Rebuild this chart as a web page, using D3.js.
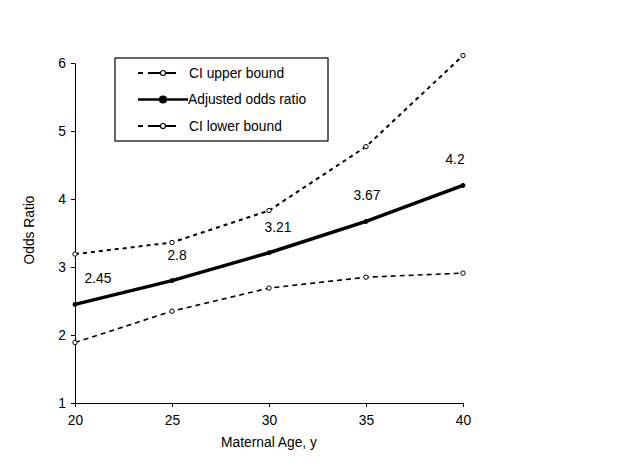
<!DOCTYPE html>
<html>
<head>
<meta charset="utf-8">
<script src="https://cdn.jsdelivr.net/npm/d3@7"></script>
<style>
  body { margin: 0; background: #fff; }
  svg { font-family: 'Liberation Sans', Arial, sans-serif; }
</style>
</head>
<body>
<svg id="chart" width="640" height="465"></svg>
<script>
// data
const ages = [20, 25, 30, 35, 40]
const adjusted = [2.45, 2.8, 3.21, 3.67, 4.2]
const ciUpper = [3.19, 3.36, 3.83, 4.77, 6.11]
const ciLower = [1.89, 2.35, 2.69, 2.85, 2.91]
const adjustedLabels = ['2.45', '2.8', '3.21', '3.67', '4.2']
const xTicks = [20, 25, 30, 35, 40]
const yTicks = [1, 2, 3, 4, 5, 6]

const margin = { left: 75, top: 63, right: 177, bottom: 62 }
const width = 640
const height = 465
const innerWidth = width - margin.left - margin.right
const innerHeight = height - margin.top - margin.bottom
const fontSize = 13.8

const svg = d3.select('#chart')
const g = svg.append('g')
  .attr('transform', `translate(${margin.left}, ${margin.top})`)

// scales
const xScale = d3.scaleLinear().domain([20, 40]).range([0, innerWidth])
const yScale = d3.scaleLinear().domain([1, 6]).range([innerHeight, 0])

// axes
const xAxis = d3.axisBottom(xScale).tickValues(xTicks).tickSize(4).tickSizeOuter(0).tickPadding(8)
  .tickFormat(d3.format('d'))
const yAxis = d3.axisLeft(yScale).tickValues(yTicks).tickSize(4).tickSizeOuter(0).tickPadding(5)
  .tickFormat(d3.format('d'))

g.append('g')
  .attr('class', 'x axis')
  .attr('transform', `translate(0, ${innerHeight})`)
  .call(xAxis)
g.append('g')
  .attr('class', 'y axis')
  .call(yAxis)

g.selectAll('.axis')
  .attr('font-size', fontSize)
  .attr('font-family', "'Liberation Sans', Arial, sans-serif")
g.selectAll('.axis path, .axis line').attr('stroke', '#000').attr('stroke-width', 1)
g.selectAll('.axis text').attr('fill', '#000')

svg.append('text')
  .text('Maternal Age, y')
  .attr('font-size', fontSize)
  .style('text-anchor', 'middle')
  .attr('transform', `translate(${margin.left + innerWidth / 2}, ${height - 18})`)
svg.append('text')
  .text('Odds Ratio')
  .attr('font-size', fontSize)
  .style('text-anchor', 'middle')
  .attr('transform', `translate(34, ${margin.top + innerHeight / 2 - 3}) rotate(-90)`)

// series
const series = [
  { name: 'CI upper bound', values: ciUpper, width: 2, dash: '4,4', filled: false },
  { name: 'Adjusted odds ratio', values: adjusted, width: 3.5, dash: null, filled: true },
  { name: 'CI lower bound', values: ciLower, width: 1.6, dash: '5,4', filled: false }
]

const line = d3.line()
  .x((d, i) => xScale(ages[i]))
  .y(d => yScale(d))

series.forEach(s => {
  g.append('path')
    .datum(s.values)
    .attr('d', line)
    .attr('fill', 'none')
    .attr('stroke', '#000')
    .attr('stroke-width', s.width)
    .attr('stroke-dasharray', s.dash)
  g.selectAll(null)
    .data(s.values)
    .enter()
    .append('circle')
    .attr('cx', (d, i) => xScale(ages[i]))
    .attr('cy', d => yScale(d))
    .attr('r', s.filled ? 2 : 2.2)
    .attr('fill', s.filled ? '#000' : '#fff')
    .attr('stroke', '#000')
    .attr('stroke-width', 1)
})

// data labels above the adjusted line
const labelNudge = [23, 5, 9, 1, -8]
g.selectAll('.dataLabel')
  .data(adjusted)
  .enter()
  .append('text')
  .attr('class', 'dataLabel')
  .text((d, i) => adjustedLabels[i])
  .attr('font-size', fontSize)
  .style('text-anchor', 'middle')
  .attr('x', (d, i) => xScale(ages[i]) + labelNudge[i])
  .attr('y', d => yScale(d) - 21)

// legend
const legend = svg.append('g').attr('transform', 'translate(115, 58)')
legend.append('rect')
  .attr('width', 213)
  .attr('height', 83)
  .attr('fill', '#fff')
  .attr('stroke', '#000')
  .attr('stroke-width', 1.2)

series.forEach((s, i) => {
  const row = legend.append('g').attr('transform', `translate(0, ${15 + i * 26.5})`)
  row.append('line')
    .attr('x1', 23).attr('x2', s.filled ? 73 : 61)
    .attr('y1', 0).attr('y2', 0)
    .attr('stroke', '#000')
    .attr('stroke-width', s.filled ? 2.5 : 2)
    .attr('stroke-dasharray', s.filled ? null : '5,5,28')
  row.append('circle')
    .attr('cx', 48).attr('cy', 0)
    .attr('r', s.filled ? 3.5 : 2.5)
    .attr('fill', s.filled ? '#000' : '#fff')
    .attr('stroke', '#000')
    .attr('stroke-width', 1.2)
  row.append('text')
    .text(s.name)
    .attr('x', s.filled ? 73 : 74)
    .attr('y', 4.8)
    .attr('font-size', fontSize)
})
</script>
</body>
</html>
